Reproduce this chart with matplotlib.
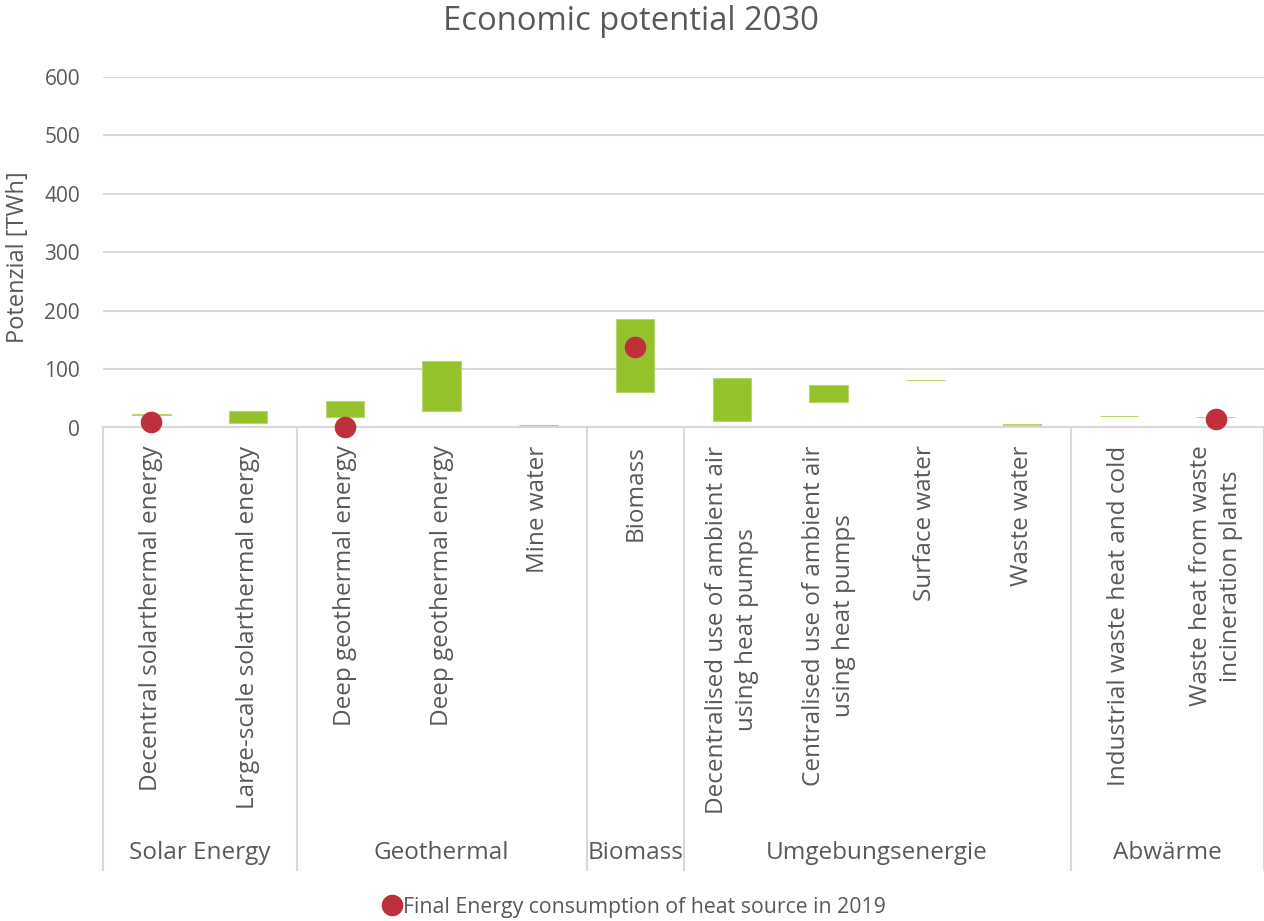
import numpy as np
import matplotlib
matplotlib.use("Agg")
import matplotlib.pyplot as plt
from matplotlib.lines import Line2D

plt.rcParams["font.family"] = ["Open Sans", "DejaVu Sans"]

# Technologies (one column each) and their group on the second axis level
categories = [
    "Decentral solarthermal energy",
    "Large-scale solarthermal energy",
    "Deep geothermal energy",
    "Deep geothermal energy",
    "Mine water",
    "Biomass",
    "Decentralised use of ambient air\nusing heat pumps",
    "Centralised use of ambient air\nusing heat pumps",
    "Surface water",
    "Waste water",
    "Industrial waste heat and cold",
    "Waste heat from waste\nincineration plants",
]
groups = ["Solar Energy", "Geothermal", "Biomass", "Umgebungsenergie", "Abwärme"]
group_sizes = [2, 3, 1, 4, 2]

# Economic potential range 2030 [TWh]: lower and upper bound
potential_low = [22.0, 8.0, 18.0, 29.0, 3.5, 60.0, 11.0, 44.0, 81.0, 5.0, 19.5, 17.5]
potential_high = [22.8, 29.0, 45.5, 114.0, 4.2, 186.0, 85.5, 73.0, 82.0, 6.0, 20.3, 18.3]

# Final energy consumption of each heat source in 2019 [TWh]
consumption_2019 = [9.0, np.nan, 1.5, np.nan, np.nan, 138.0, np.nan, np.nan, np.nan, np.nan, np.nan, 14.0]

y_ticks = [0, 100, 200, 300, 400, 500, 600]

TEXT = "#595959"
GRID = "#d9d9d9"
GREEN = "#95c12b"
RED = "#c0303c"

W, H = 1264, 921
fig = plt.figure(figsize=(W / 100, H / 100), dpi=100)

ax_left, ax_right = 103, 1264
ax_top, ax_bottom = 77, 427.5
ax = fig.add_axes([ax_left / W, 1 - ax_bottom / H, (ax_right - ax_left) / W, (ax_bottom - ax_top) / H])

x = np.arange(len(categories))
low = np.array(potential_low)
high = np.array(potential_high)
ax.bar(x, high - low, bottom=low, width=0.4, color=GREEN,
       edgecolor="#b7d66e", linewidth=0.8, zorder=3)
ax.plot(x, consumption_2019, linestyle="none", marker="o", markersize=14.5,
        color=RED, zorder=4, clip_on=False)

ax.set_ylim(0, 600)
ax.set_xlim(-0.5, len(categories) - 0.5)
ax.set_yticks(y_ticks)
ax.set_yticklabels([str(v) for v in y_ticks])
ax.yaxis.grid(True, color=GRID, linewidth=1.5, zorder=0)
ax.set_axisbelow(True)
for side in ["left", "right", "top"]:
    ax.spines[side].set_visible(False)
ax.spines["bottom"].set_color(GRID)
ax.spines["bottom"].set_linewidth(1.5)
ax.tick_params(axis="y", length=0, pad=16.5, labelsize=15, labelcolor=TEXT)
ax.tick_params(axis="x", length=0, pad=13, labelsize=17.5, labelcolor=TEXT)

ax.set_xticks(x)
ax.set_xticklabels(categories, rotation=90, va="top", ha="center",
                   multialignment="center", linespacing=1.32)

# Group separators and group labels below the category labels
ax_h = ax_bottom - ax_top
sep_bottom = (ax_bottom - 870) / ax_h
label_y = (ax_bottom - 853) / ax_h
trans = ax.get_xaxis_transform()
edges = np.concatenate([[0], np.cumsum(group_sizes)]) - 0.5
for e in edges:
    ax.plot([e, e], [0, sep_bottom], transform=trans, color=GRID,
            linewidth=1.5, clip_on=False)
for g, a, b in zip(groups, edges[:-1], edges[1:]):
    ax.text((a + b) / 2, label_y, g, transform=trans, ha="center", va="center",
            fontsize=17.5, color=TEXT)

fig.text(631 / W, 1 - 22 / H, "Economic potential 2030", ha="center", va="center",
         fontsize=23.6, color=TEXT)
fig.text(18 / W, 1 - 257 / H, "Potenzial [TWh]", ha="center", va="center",
         rotation=90, fontsize=17, color=TEXT)

handle = Line2D([], [], linestyle="none", marker="o", markersize=14.5, color=RED)
fig.legend([handle], ["Final Energy consumption of heat source in 2019"],
           loc="center", bbox_to_anchor=(635 / W, 1 - 907 / H), frameon=False,
           fontsize=15.3, labelcolor=TEXT, handlelength=0.7, handletextpad=0.15,
           borderpad=0)

fig.savefig("out.png", dpi=100)
